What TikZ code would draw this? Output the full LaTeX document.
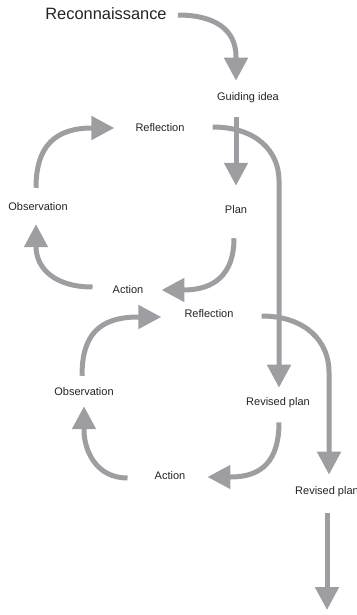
\documentclass[tikz,border=0pt]{standalone}
\usepackage{fontspec}
\setmainfont{Liberation Sans}
\usetikzlibrary{arrows.meta,calc}
\definecolor{arrgray}{RGB}{158,158,162}
\definecolor{txt}{RGB}{35,35,35}
\begin{document}
\begin{tikzpicture}[x=1pt,y=-1pt,
  lbl/.style={text=txt,font=\fontsize{11}{13}\selectfont,inner sep=0pt},
  big/.style={text=txt,font=\fontsize{16.4}{19}\selectfont,inner sep=0pt},
  arr/.style={draw=arrgray,line width=5pt,-{Triangle[width=23pt,length=23pt]},arrgray}]
\useasboundingbox (0,0) rectangle (356,615);
\node[big] (recon) at (106,14) {Reconnaissance};
\node[lbl] (guide) at (248,98) {Guiding idea};
\node[lbl] (refl1) at (160,128) {Reflection};
\node[lbl] (obs1) at (38,207) {Observation};
\node[lbl] (plan) at (236,210) {Plan};
\node[lbl] (act1) at (128,290) {Action};
\node[lbl] (refl2) at (209,314) {Reflection};
\node[lbl] (obs2) at (84,392) {Observation};
\node[lbl] (rplan1) at (278,403) {Revised plan};
\node[lbl] (act2) at (170,476) {Action};
\node[lbl] (rplan2) at (327,492) {Revised plan};
\coordinate (end) at (327,610);
% Reconnaissance -> Guiding idea
\draw[arr] ($(recon.east)+(11,1)$) .. controls +(37,0) and +(0,-27) .. ($(guide.north)+(-12,-36)$) -- ($(guide.north)+(-12,-12)$);
% Guiding idea -> Plan
\draw[arr] ($(guide.south)+(-12,14)$) -- ($(plan.north)+(0,-20)$);
% Reflection1 -> Revised plan 1
\draw[arr] ($(refl1.east)+(28,-1)$) .. controls +(43,0) and +(0,-30) .. ($(rplan1.north)+(1,-217)$) -- ($(rplan1.north)+(1,-10)$);
% Observation1 -> Reflection1
\draw[arr] ($(obs1.north)+(-2,-15)$) .. controls +(0,-42) and +(-37,0) .. ($(refl1.west)+(-43,0)$) -- ($(refl1.west)+(-21,0)$);
% Plan -> Action1
\draw[arr] ($(plan.south)+(-2,24)$) .. controls +(0,36) and +(31,0) .. ($(act1.east)+(40,0)$) -- ($(act1.east)+(18,0)$);
% Action1 -> Observation1
\draw[arr] ($(act1.west)+(-20,-3)$) .. controls +(-38,0) and +(0,22) .. ($(obs1.south)+(-2,35)$) -- ($(obs1.south)+(-2,13)$);
% Observation2 -> Reflection2
\draw[arr] ($(obs2.north)+(-2,-12)$) .. controls +(0,-40) and +(-40,0) .. ($(refl2.west)+(-46,3)$) -- ($(refl2.west)+(-23,3)$);
% Reflection2 -> Revised plan 2
\draw[arr] ($(refl2.east)+(28,2)$) .. controls +(44,0) and +(0,-30) .. ($(rplan2.north)+(2,-115)$) -- ($(rplan2.north)+(2,-12)$);
% Revised plan 1 -> Action2
\draw[arr] ($(rplan1.south)+(1,14)$) .. controls +(0,38) and +(32,0) .. ($(act2.east)+(45,1)$) -- ($(act2.east)+(22,1)$);
% Action2 -> Observation2
\draw[arr] ($(act2.west)+(-27,2)$) .. controls +(-33,0) and +(0,18) .. ($(obs2.south)+(0,34)$) -- ($(obs2.south)+(0,10)$);
% Revised plan 2 -> onward
\draw[arr] ($(rplan2.south)+(0,16)$) -- (end);
\end{tikzpicture}
\end{document}
